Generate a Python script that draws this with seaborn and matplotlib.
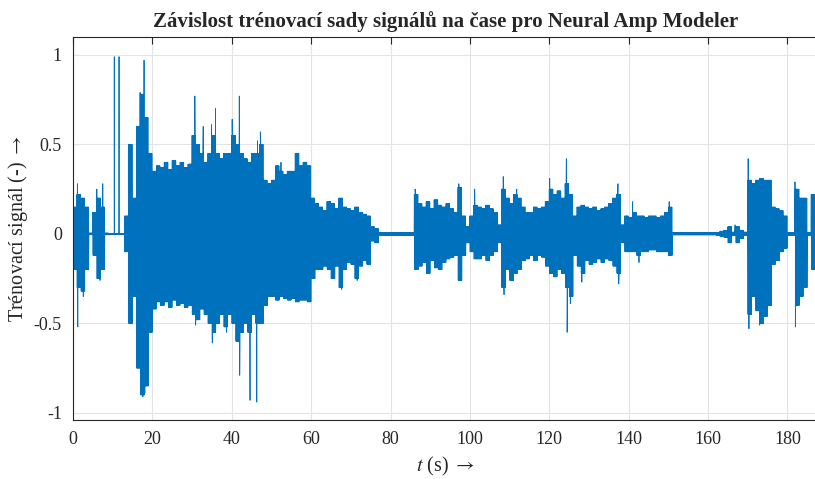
import numpy as np
import pandas as pd
import seaborn as sns
import matplotlib.pyplot as plt

# Envelope of the training signal, one value per second (t = 0..186 s)
env_upper = [
    0.15, 0.22, 0.20, 0.15, 0.005, 0.12, 0.20, 0.15, 0.005, 0.003,
    0.003, 0.003, 0.003, 0.10, 0.50, 0.20, 0.60, 0.78, 0.65, 0.45,
    0.35, 0.38, 0.37, 0.40, 0.36, 0.41, 0.38, 0.40, 0.37, 0.39,
    0.55, 0.50, 0.45, 0.40, 0.45, 0.55, 0.45, 0.42, 0.45, 0.45,
    0.55, 0.50, 0.45, 0.42, 0.40, 0.45, 0.45, 0.50, 0.30, 0.28,
    0.30, 0.38, 0.35, 0.33, 0.35, 0.35, 0.45, 0.38, 0.40, 0.38,
    0.20, 0.17, 0.15, 0.13, 0.18, 0.17, 0.14, 0.20, 0.15, 0.14,
    0.13, 0.15, 0.12, 0.11, 0.10, 0.04, 0.03, 0.008, 0.008, 0.008,
    0.008, 0.008, 0.008, 0.008, 0.008, 0.008, 0.22, 0.17, 0.15, 0.18,
    0.14, 0.19, 0.16, 0.15, 0.17, 0.14, 0.12, 0.26, 0.10, 0.04,
    0.10, 0.16, 0.15, 0.14, 0.16, 0.14, 0.12, 0.05, 0.25, 0.20,
    0.17, 0.22, 0.20, 0.15, 0.12, 0.12, 0.15, 0.14, 0.15, 0.18,
    0.25, 0.22, 0.24, 0.20, 0.28, 0.22, 0.10, 0.15, 0.16, 0.15,
    0.14, 0.15, 0.13, 0.14, 0.15, 0.17, 0.20, 0.22, 0.05, 0.10,
    0.09, 0.12, 0.10, 0.10, 0.09, 0.10, 0.10, 0.09, 0.10, 0.12,
    0.15, 0.006, 0.006, 0.006, 0.006, 0.006, 0.006, 0.006, 0.006, 0.006,
    0.006, 0.006, 0.008, 0.015, 0.02, 0.04, 0.01, 0.04, 0.02, 0.01,
    0.30, 0.28, 0.30, 0.31, 0.30, 0.30, 0.15, 0.14, 0.13, 0.10,
    0.008, 0.008, 0.25, 0.20, 0.20, 0.008, 0.22,
]
env_lower = [
    -0.20, -0.30, -0.32, -0.20, -0.005, -0.12, -0.25, -0.20, -0.005, -0.003,
    -0.003, -0.003, -0.003, -0.10, -0.50, -0.35, -0.75, -0.90, -0.85, -0.55,
    -0.42, -0.38, -0.40, -0.38, -0.41, -0.37, -0.40, -0.39, -0.41, -0.40,
    -0.45, -0.48, -0.42, -0.45, -0.50, -0.55, -0.50, -0.45, -0.52, -0.45,
    -0.50, -0.60, -0.55, -0.50, -0.55, -0.45, -0.50, -0.50, -0.40, -0.35,
    -0.35, -0.37, -0.35, -0.36, -0.37, -0.36, -0.38, -0.37, -0.37, -0.38,
    -0.25, -0.20, -0.20, -0.18, -0.20, -0.25, -0.18, -0.30, -0.20, -0.16,
    -0.17, -0.25, -0.18, -0.15, -0.17, -0.04, -0.05, -0.008, -0.008, -0.008,
    -0.008, -0.008, -0.008, -0.008, -0.008, -0.008, -0.20, -0.18, -0.16, -0.22,
    -0.15, -0.19, -0.20, -0.16, -0.14, -0.13, -0.12, -0.26, -0.12, -0.05,
    -0.10, -0.14, -0.14, -0.12, -0.15, -0.12, -0.10, -0.05, -0.30, -0.20,
    -0.26, -0.22, -0.20, -0.15, -0.14, -0.12, -0.15, -0.12, -0.13, -0.18,
    -0.22, -0.24, -0.20, -0.22, -0.30, -0.35, -0.12, -0.18, -0.22, -0.15,
    -0.17, -0.16, -0.14, -0.16, -0.14, -0.15, -0.18, -0.22, -0.05, -0.10,
    -0.10, -0.10, -0.12, -0.10, -0.10, -0.09, -0.09, -0.10, -0.10, -0.10,
    -0.12, -0.006, -0.006, -0.006, -0.006, -0.006, -0.006, -0.006, -0.006, -0.006,
    -0.006, -0.006, -0.008, -0.015, -0.02, -0.05, -0.01, -0.05, -0.025, -0.01,
    -0.45, -0.35, -0.43, -0.50, -0.46, -0.40, -0.17, -0.15, -0.10, -0.08,
    -0.008, -0.008, -0.40, -0.35, -0.30, -0.008, -0.20,
]

# Isolated peaks that stick out of the envelope
peak_t = [1.1, 1.2, 2.6, 6.0, 6.8, 7.5, 10.4, 11.6, 16.9, 17.6, 17.9, 18.1,
          30.7, 30.9, 32.8, 34.9, 35.1, 35.9, 38.7, 40.1, 41.3, 41.9, 42.0,
          44.6, 46.3, 46.5, 47.2, 52.4, 56.2, 67.7, 71.6, 86.2, 97.2, 101.2,
          108.4, 108.6, 111.8, 120.1, 124.3, 124.5, 125.3, 128.2, 137.3, 137.5,
          141.0, 142.6, 150.2, 166.8, 170.1, 170.3, 173.0, 181.9, 182.0]
peak_v = [0.28, -0.52, -0.35, 0.25, -0.26, 0.28, 0.99, 0.99, 0.79, -0.91, 0.97, -0.89,
          0.77, -0.51, 0.60, 0.61, -0.61, 0.70, -0.55, 0.64, -0.60, 0.77, -0.79,
          -0.93, -0.94, 0.52, 0.57, 0.40, 0.45, -0.31, -0.26, 0.25, 0.28, 0.25,
          0.32, -0.34, 0.25, 0.31, 0.42, -0.55, -0.39, -0.27, 0.28, -0.28,
          0.18, -0.16, 0.18, 0.05, 0.42, -0.53, -0.51, 0.29, -0.52]

x_ticks = [0, 20, 40, 60, 80, 100, 120, 140, 160, 180]
y_ticks = [-1, -0.5, 0, 0.5, 1]
y_tick_labels = ['-1', '-0.5', '0', '0.5', '1']

# dense zig-zag between upper and lower envelope inside every second
n_osc = 8
t_list, v_list = [], []
for i, (hi, lo) in enumerate(zip(env_upper, env_lower)):
    for k in range(2 * n_osc):
        t_list.append(i + k / (2 * n_osc))
        v_list.append(hi if k % 2 == 0 else lo)
t_list += peak_t
v_list += peak_v
data = pd.DataFrame({'t': t_list, 'v': v_list}).sort_values('t', kind='stable')

sns.set_style('white')
plt.rcParams['font.family'] = ['Liberation Serif', 'DejaVu Serif']
plt.rcParams['mathtext.fontset'] = 'stix'

fig = plt.figure(figsize=(8.15, 4.79), dpi=100)
ax = fig.add_axes([73 / 815, 1 - 420 / 479, (818 - 73) / 815, (420 - 37) / 479])

sns.lineplot(data=data, x='t', y='v', sort=False, estimator=None,
             color='#0072BD', linewidth=0.6, ax=ax)

ax.set_xlim(0, 187.7)
ax.set_ylim(-1.04, 1.10)
ax.set_xticks(x_ticks)
ax.set_xticklabels([str(x) for x in x_ticks])
ax.set_yticks(y_ticks)
ax.set_yticklabels(y_tick_labels)
ax.grid(True, color='#e3e3e3', linewidth=0.8)
ax.set_axisbelow(True)
ax.tick_params(direction='in', length=5, width=0.8, top=True, right=False,
               labelsize=13, colors='#262626', pad=8)
for s in ax.spines.values():
    s.set_color('#262626')
    s.set_linewidth(0.8)

ax.set_title('Závislost trénovací sady signálů na čase pro Neural Amp Modeler',
             fontsize=15, fontweight='bold', pad=7)
ax.set_xlabel(r'$t$ (s) $\rightarrow$', fontsize=14.5, color='#262626', labelpad=5)
ax.set_ylabel(r'Trénovací signál (-) $\rightarrow$', fontsize=14.5, color='#262626', labelpad=3)

plt.savefig('out.png', dpi=100)
plt.close()
